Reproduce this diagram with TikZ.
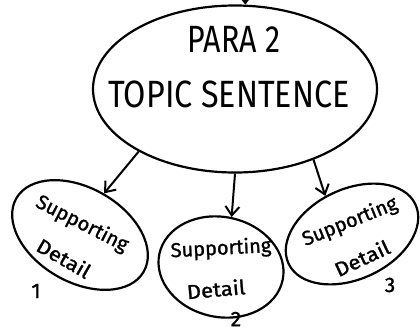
\documentclass[tikz,border=0pt]{standalone}
\usepackage{fontspec}
\setmainfont{Fira Sans}
\newfontfamily\handbold[FakeBold=1.2]{Fira Sans}
\usetikzlibrary{shapes.geometric,arrows.meta}
\begin{document}
\begin{tikzpicture}[x=1pt,y=-1pt,
  blob/.style={ellipse,draw=black,line width=2.2pt,inner sep=0pt},
  arr/.style={line width=2pt,-{Straight Barb[length=9pt,width=14pt,line width=2pt]}},
  bigtext/.style={font=\fontsize{38}{40}\selectfont,anchor=base,inner sep=0pt},
  smalltext/.style={font=\handbold\fontsize{20}{22}\selectfont,inner sep=0pt},
  numtext/.style={font=\handbold\fontsize{21}{23}\selectfont,inner sep=0pt}]
\useasboundingbox[fill=white] (0,0) rectangle (420,333);
% main topic blob
\node[blob,minimum width=284pt,minimum height=167pt] (topic) at (235,89) {};
\node[bigtext] (para) at (234,52) {\scalebox{0.8}[1]{PARA 2}};
\node[bigtext] (ts) at (229,107) {\scalebox{0.85}[1]{TOPIC SENTENCE}};
% detail blobs
\node[blob,minimum width=147pt,minimum height=94pt,rotate=-30] (d1) at (80,235) {};
\node[blob,minimum width=126pt,minimum height=100pt,rotate=-12] (d2) at (221,267) {};
\node[blob,minimum width=140pt,minimum height=90pt,rotate=25] (d3) at (352,234) {};
% texts
\node[smalltext,rotate=-27] (s1) at (82,224) {Supporting};
\node[smalltext,rotate=-30] (e1) at (64,258) {\scalebox{1.1}[1]{Detail}};
\node[smalltext,rotate=3] (s2) at (221,249) {Supporting};
\node[smalltext,rotate=5] (e2) at (216,289) {\scalebox{1.1}[1]{Detail}};
\node[smalltext,rotate=22] (s3) at (350,222) {Supporting};
\node[smalltext,rotate=25] (e3) at (362,258) {\scalebox{1.1}[1]{Detail}};
% numbers
\node[numtext] (n1) at (36,291) {1};
\node[numtext] (n2) at (236,319) {2};
\node[numtext] (n3) at (390,285) {3};
% connectors
\coordinate (above) at (245,-20);
\draw[arr] (above) -- (topic.83);
\draw[arr] (topic.213) -- (d1.north);
\draw[arr] (topic.south) -- (d2.north);
\draw[arr] (topic.318) -- (d3.100);
\end{tikzpicture}
\end{document}
